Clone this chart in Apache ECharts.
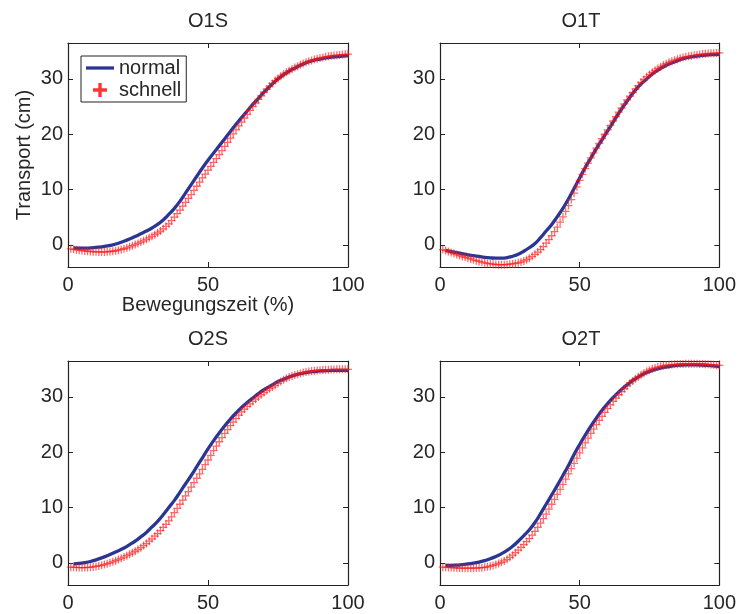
<!DOCTYPE html>
<html><head><meta charset="utf-8">
<script src="https://cdn.jsdelivr.net/npm/echarts@6/dist/echarts.min.js"></script>
<style>html,body{margin:0;padding:0;background:#fff}#c{width:739px;height:614px}</style>
</head><body><div id="c"></div>
<script>
// Bewegungszeit (%) positions of the "normal" line samples
const xsNormal = [2,4,6,8,10,12,14,16,18,20,22,24,26,28,30,32,34,36,38,40,42,44,46,48,50,
            52,54,56,58,60,62,64,66,68,70,72,74,76,78,80,82,84,86,88,90,92,94,96,98,100];
// Bewegungszeit (%) positions of the "schnell" markers (1 % steps)
const xsSchnell = [1,2,3,4,5,6,7,8,9,10,11,12,13,14,15,16,17,18,19,20,
  21,22,23,24,25,26,27,28,29,30,31,32,33,34,35,36,37,38,39,40,
  41,42,43,44,45,46,47,48,49,50,51,52,53,54,55,56,57,58,59,60,
  61,62,63,64,65,66,67,68,69,70,71,72,73,74,75,76,77,78,79,80,
  81,82,83,84,85,86,87,88,89,90,91,92,93,94,95,96,97,98,99,100];

const titles = ['O1S', 'O1T', 'O2S', 'O2T'];
const xTicks = [0, 50, 100];
const yTicks = [0, 10, 20, 30];

const o1sNormal = [-0.55,-0.6,-0.6,-0.55,-0.45,-0.35,-0.2,0.0,0.3,0.65,
  1.05,1.5,2.0,2.5,3.05,3.7,4.5,5.5,6.6,7.9,
  9.4,10.9,12.4,13.9,15.3,16.6,17.9,19.2,20.5,21.8,
  23.0,24.2,25.4,26.5,27.6,28.6,29.6,30.4,31.1,31.7,
  32.2,32.7,33.1,33.4,33.6,33.8,33.95,34.05,34.15,34.2];
const o1sSchnell = [-0.72,-0.8,-0.88,-0.95,-1.03,-1.1,-1.15,-1.2,-1.23,-1.25,
  -1.28,-1.3,-1.28,-1.25,-1.2,-1.15,-1.06,-0.95,-0.83,-0.7,
  -0.53,-0.35,-0.15,0.05,0.27,0.5,0.74,1.0,1.27,1.55,
  1.84,2.15,2.5,2.9,3.33,3.8,4.38,5.0,5.64,6.3,
  7.0,7.7,8.4,9.1,9.85,10.6,11.35,12.1,12.8,13.5,
  14.2,14.9,15.6,16.3,17.05,17.8,18.55,19.3,20.05,20.8,
  21.5,22.2,22.9,23.6,24.3,25.0,25.65,26.3,26.95,27.6,
  28.15,28.7,29.2,29.7,30.1,30.5,30.85,31.2,31.5,31.8,
  32.05,32.3,32.55,32.8,33.0,33.2,33.35,33.5,33.65,33.8,
  33.9,34.0,34.1,34.2,34.25,34.3,34.35,34.4,34.45,34.5];

const o1tNormal = [-1.0,-1.2,-1.4,-1.6,-1.8,-1.95,-2.1,-2.25,-2.35,-2.4,
  -2.4,-2.3,-2.05,-1.7,-1.15,-0.5,0.25,1.3,2.5,3.7,
  5.1,6.6,8.3,10.2,12.1,14.0,15.7,17.4,19.0,20.6,
  22.2,23.8,25.3,26.7,28.0,29.1,30.0,30.9,31.6,32.2,
  32.7,33.1,33.5,33.8,34.0,34.15,34.25,34.35,34.4,34.45];
const o1tSchnell = [-0.85,-1.0,-1.2,-1.4,-1.58,-1.75,-1.93,-2.1,-2.25,-2.4,
  -2.55,-2.7,-2.85,-3.0,-3.13,-3.25,-3.36,-3.45,-3.5,-3.55,
  -3.58,-3.6,-3.58,-3.55,-3.5,-3.45,-3.36,-3.25,-3.1,-2.9,
  -2.67,-2.4,-2.07,-1.7,-1.3,-0.85,-0.3,0.3,0.95,1.65,
  2.4,3.2,4.1,5.05,6.05,7.1,8.2,9.35,10.5,11.65,
  12.75,13.8,14.8,15.75,16.65,17.5,18.35,19.2,20.0,20.8,
  21.6,22.4,23.2,24.0,24.75,25.5,26.2,26.9,27.55,28.2,
  28.8,29.4,29.9,30.4,30.8,31.2,31.55,31.9,32.2,32.5,
  32.75,33.0,33.2,33.4,33.58,33.75,33.88,34.0,34.1,34.2,
  34.28,34.35,34.43,34.5,34.55,34.6,34.63,34.65,34.68,34.7];

const o2sNormal = [-0.2,-0.1,0.05,0.25,0.55,0.9,1.3,1.75,2.2,2.7,
  3.3,3.95,4.7,5.5,6.5,7.5,8.7,10.0,11.3,12.8,
  14.3,15.8,17.4,19.0,20.6,22.1,23.5,24.8,26.0,27.1,
  28.1,29.0,29.8,30.6,31.3,31.9,32.5,33.0,33.4,33.8,
  34.1,34.3,34.5,34.6,34.7,34.75,34.8,34.8,34.8,34.8];
const o2sSchnell = [-0.78,-0.8,-0.83,-0.85,-0.86,-0.85,-0.83,-0.8,-0.73,-0.65,
  -0.56,-0.45,-0.31,-0.15,0.02,0.2,0.4,0.6,0.82,1.05,
  1.3,1.55,1.82,2.1,2.42,2.75,3.12,3.5,3.92,4.35,
  4.82,5.3,5.84,6.4,6.98,7.6,8.33,9.1,9.85,10.6,
  11.35,12.1,12.9,13.7,14.5,15.3,16.1,16.9,17.75,18.6,
  19.45,20.3,21.1,21.9,22.65,23.4,24.1,24.8,25.45,26.1,
  26.7,27.3,27.8,28.3,28.75,29.2,29.6,30.0,30.4,30.8,
  31.15,31.5,31.8,32.1,32.45,32.8,33.1,33.4,33.6,33.8,
  33.95,34.1,34.25,34.4,34.5,34.6,34.68,34.75,34.8,34.85,
  34.88,34.9,34.93,34.95,34.98,35.0,35.0,35.0,35.0,35.0];

const o2tNormal = [-0.45,-0.45,-0.4,-0.3,-0.2,-0.05,0.15,0.4,0.75,1.15,
  1.65,2.25,3.0,3.9,4.9,6.0,7.3,8.9,10.6,12.3,
  14.0,15.8,17.6,19.6,21.4,23.1,24.7,26.2,27.6,28.8,
  29.9,30.9,31.8,32.6,33.3,33.9,34.4,34.8,35.1,35.35,
  35.5,35.65,35.75,35.8,35.8,35.8,35.75,35.7,35.6,35.5];
const o2tSchnell = [-0.78,-0.8,-0.83,-0.85,-0.88,-0.9,-0.93,-0.95,-0.95,-0.95,
  -0.95,-0.95,-0.93,-0.9,-0.86,-0.8,-0.71,-0.6,-0.46,-0.3,
  -0.11,0.1,0.36,0.65,1.0,1.4,1.84,2.3,2.8,3.3,
  3.84,4.4,5.03,5.7,6.43,7.2,8.0,8.8,9.7,10.6,
  11.5,12.4,13.3,14.2,15.15,16.1,17.05,18.0,18.95,19.9,
  20.8,21.7,22.55,23.4,24.2,25.0,25.75,26.5,27.2,27.9,
  28.55,29.2,29.8,30.4,30.95,31.5,32.0,32.5,32.9,33.3,
  33.65,34.0,34.3,34.6,34.85,35.1,35.25,35.4,35.53,35.65,
  35.73,35.8,35.85,35.9,35.93,35.95,35.98,36.0,36.0,36.0,
  36.0,36.0,35.98,35.95,35.93,35.9,35.85,35.8,35.75,35.7];

const normals = [o1sNormal, o1tNormal, o2sNormal, o2tNormal];
const schnells = [o1sSchnell, o1tSchnell, o2sSchnell, o2tSchnell];

const FONT = '"Liberation Sans", Arial, Helvetica, sans-serif';
const TXT = '#262626';
const AX = '#222222';
const BLUE = '#2b3593';
const RED = 'rgba(255,20,20,0.8)';
const PLUS = 'path://M0,4.2H10V5.8H0Z M4.2,0H5.8V10H4.2Z';
const PLUS_LEG = 'path://M0,3.8H10V6.2H0Z M3.8,0H6.2V10H3.8Z';
const LINE_LEG = 'path://M0,0H28V3.3H0Z';

const gridBoxes = [
  {left: 68, top: 43, width: 280, height: 224},
  {left: 440, top: 43, width: 282, height: 224},
  {left: 68, top: 361, width: 280, height: 224},
  {left: 440, top: 361, width: 282, height: 224}
];

const grid = [], xAxis = [], yAxis = [], series = [], title = [];
gridBoxes.forEach((g, i) => {
  grid.push(Object.assign({containLabel: false, show: false}, g));
  title.push({
    text: titles[i], left: g.left + g.width / 2, top: g.top - 32, textAlign: 'center', padding: 0,
    textStyle: {fontFamily: FONT, fontSize: 20, fontWeight: 'normal', color: TXT}
  });
  const lineStyle = {color: AX, width: 1.2};
  const tick = {show: true, inside: true, length: 5, lineStyle: {color: AX, width: 1}};
  xAxis.push({
    type: 'value', gridIndex: i, position: 'bottom', min: 0, max: 100, interval: 50,
    axisLine: {show: true, onZero: false, lineStyle},
    axisTick: Object.assign({customValues: xTicks}, tick),
    axisLabel: {customValues: xTicks, margin: 8, fontFamily: FONT, fontSize: 20, color: TXT},
    splitLine: {show: false},
    name: i === 0 ? 'Bewegungszeit (%)' : '', nameLocation: 'middle', nameGap: 28,
    nameTextStyle: {fontFamily: FONT, fontSize: 20, color: TXT}
  });
  xAxis.push({
    type: 'value', gridIndex: i, position: 'top', min: 0, max: 100, interval: 50,
    axisLine: {show: true, onZero: false, lineStyle},
    axisTick: Object.assign({customValues: xTicks}, tick),
    axisLabel: {show: false}, splitLine: {show: false}
  });
  yAxis.push({
    type: 'value', gridIndex: i, position: 'left', min: -4, max: 36.5, splitNumber: 4,
    axisLine: {show: true, onZero: false, lineStyle},
    axisTick: Object.assign({customValues: yTicks}, tick),
    axisLabel: {customValues: yTicks, margin: 5, fontFamily: FONT, fontSize: 20, color: TXT,
      formatter: v => (v % 10 === 0 ? String(v) : '')},
    splitLine: {show: false},
    name: i === 0 ? 'Transport (cm)' : '', nameLocation: 'middle', nameGap: 34,
    nameTextStyle: {fontFamily: FONT, fontSize: 20, color: TXT}
  });
  yAxis.push({
    type: 'value', gridIndex: i, position: 'right', min: -4, max: 36.5, splitNumber: 4,
    axisLine: {show: true, onZero: false, lineStyle},
    axisTick: Object.assign({customValues: yTicks}, tick),
    axisLabel: {show: false}, splitLine: {show: false}
  });
  series.push({
    name: 'normal', type: 'line', xAxisIndex: 2 * i, yAxisIndex: 2 * i,
    data: xsNormal.map((x, k) => [x, normals[i][k]]),
    showSymbol: false, symbol: 'none', smooth: true, z: 2,
    lineStyle: {color: BLUE, width: 3.3}, itemStyle: {color: BLUE}
  });
  series.push({
    name: 'schnell', type: 'scatter', xAxisIndex: 2 * i, yAxisIndex: 2 * i,
    data: xsSchnell.map((x, k) => [x, schnells[i][k]]),
    symbol: PLUS, symbolSize: 8, z: 3,
    itemStyle: {color: RED}
  });
});

const chart = echarts.init(document.getElementById('c'), null, {renderer: 'canvas'});
chart.setOption({
  backgroundColor: '#ffffff',
  animation: false,
  title, grid, xAxis, yAxis, series,
  legend: {
    left: 81, top: 56, orient: 'vertical',
    padding: [2, 5, 2, 5], itemGap: 2, itemWidth: 28, itemHeight: 14,
    borderColor: AX, borderWidth: 1, backgroundColor: '#fff',
    textStyle: {fontFamily: FONT, fontSize: 20, color: TXT},
    data: [
      {name: 'normal', icon: LINE_LEG, itemStyle: {color: BLUE}},
      {name: 'schnell', icon: PLUS_LEG, itemStyle: {color: '#ff0000'}}
    ]
  }
});
</script></body></html>
